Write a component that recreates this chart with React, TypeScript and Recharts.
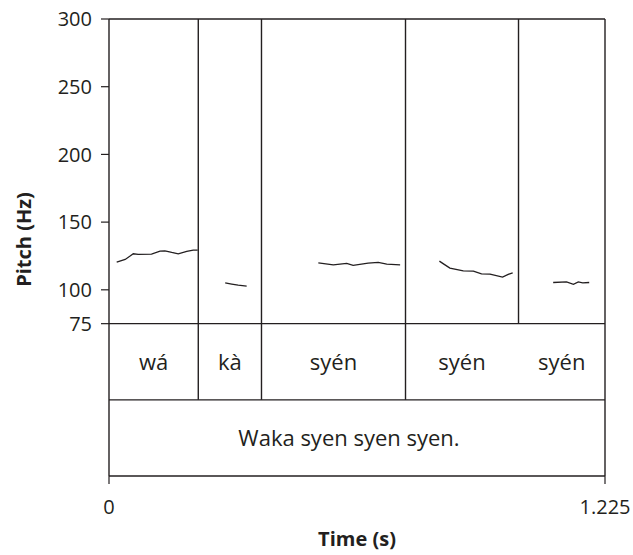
import { ComposedChart, Line, XAxis, YAxis, ReferenceLine, ReferenceArea } from 'recharts';

const FONT = '"Open Sans", "Noto Sans", sans-serif';
const INK = '#231f20';

const timeTicks = [0, 1.225];
const pitchTicks = [75, 100, 150, 200, 250, 300];

// annotation tiers live below the 75 Hz floor, each one 56.25 "Hz" tall
const PITCH_FLOOR = 75;
const TIER_H = 56.25;

const syllables = ['wá', 'kà', 'syén', 'syén', 'syén'];
const syllableEdges = [0, 0.2205, 0.3766, 0.7323, 1.0114, 1.225];
const tierEdges = [0.2205, 0.3766, 0.7323];
const sentence = 'Waka syen syen syen.';

// pitch track, one pair of arrays per voiced stretch
const waTime = [0.019, 0.04, 0.06, 0.072, 0.105, 0.126, 0.138, 0.155, 0.171, 0.192, 0.208, 0.219];
const waHz = [120.4, 122.4, 126.6, 126.1, 126.4, 128.6, 128.8, 127.6, 126.6, 128.4, 129.3, 129.3];
const kaTime = [0.287, 0.303, 0.319, 0.34];
const kaHz = [105.1, 104.2, 103.4, 102.7];
const syen1Time = [0.517, 0.554, 0.587, 0.603, 0.64, 0.665, 0.686, 0.719];
const syen1Hz = [119.9, 118.4, 119.5, 118.0, 119.7, 120.2, 119.0, 118.4];
const syen2Time = [0.816, 0.827, 0.842, 0.875, 0.9, 0.92, 0.941, 0.972, 0.986, 0.997];
const syen2Hz = [121.2, 119.0, 116.0, 114.0, 113.8, 111.8, 111.6, 109.4, 111.4, 112.5];
const syen3Time = [1.097, 1.13, 1.147, 1.159, 1.17, 1.186];
const syen3Hz = [105.4, 105.9, 104.0, 105.9, 105.1, 105.4];

const zip = (ts: number[], hs: number[]) => ts.map((t, i) => ({ t, hz: hs[i] }));

const tracks = [
  zip(waTime, waHz),
  zip(kaTime, kaHz),
  zip(syen1Time, syen1Hz),
  zip(syen2Time, syen2Hz),
  zip(syen3Time, syen3Hz),
];

export default function App() {
  const tier1Top = PITCH_FLOOR;
  const tier1Bottom = PITCH_FLOOR - TIER_H;
  const tier2Bottom = PITCH_FLOOR - 2 * TIER_H;
  const tMax = timeTicks[timeTicks.length - 1];
  const textStyle = { fill: INK, fontSize: 20, fontFamily: FONT };
  const tierText = { fill: INK, fontSize: 22, fontFamily: FONT };

  return (
    <div style={{ position: 'absolute', left: 0, top: 0, background: '#fff' }}>
      <ComposedChart width={633} height={555} margin={{ top: 19, right: 28, bottom: 0, left: 0 }}>
        <XAxis
          type="number"
          dataKey="t"
          domain={[0, tMax]}
          ticks={timeTicks}
          interval={0}
          tickSize={8}
          tickMargin={16}
          height={79}
          axisLine={{ stroke: INK, strokeWidth: 1.4 }}
          tickLine={{ stroke: INK, strokeWidth: 1.2 }}
          tick={textStyle}
          label={{ value: 'Time (s)', position: 'insideBottom', offset: 9, fill: INK, fontSize: 20, fontWeight: 'bold', fontFamily: FONT }}
        />
        <YAxis
          type="number"
          domain={[tier2Bottom, 300]}
          ticks={pitchTicks}
          interval={0}
          width={109}
          tickSize={8}
          tickMargin={9}
          axisLine={{ stroke: INK, strokeWidth: 1.4 }}
          tickLine={{ stroke: INK, strokeWidth: 1.2 }}
          tick={textStyle}
          label={{ value: 'Pitch (Hz)', angle: -90, position: 'insideLeft', offset: 24, dx: 0, dy: -8, style: { textAnchor: 'middle' }, fill: INK, fontSize: 20, fontWeight: 'bold', fontFamily: FONT }}
        />

        {/* frame and tier rules */}
        <ReferenceLine y={300} stroke={INK} strokeWidth={1.4} />
        <ReferenceLine y={tier1Top} stroke={INK} strokeWidth={1.4} />
        <ReferenceLine y={tier1Bottom} stroke={INK} strokeWidth={1.4} />
        <ReferenceLine x={tMax} stroke={INK} strokeWidth={1.4} />
        {syllableEdges.slice(1, -1).map((e) => (
          <ReferenceLine key={`p-${e}`} segment={[{ x: e, y: tier1Top }, { x: e, y: 300 }]} stroke={INK} strokeWidth={1.4} />
        ))}
        {tierEdges.map((e) => (
          <ReferenceLine key={`t-${e}`} segment={[{ x: e, y: tier1Bottom }, { x: e, y: tier1Top }]} stroke={INK} strokeWidth={1.4} />
        ))}

        {/* tier text */}
        {syllables.map((s, i) => (
          <ReferenceArea
            key={`s-${i}`}
            x1={syllableEdges[i]}
            x2={syllableEdges[i + 1]}
            y1={tier1Bottom}
            y2={tier1Top}
            fill="none"
            stroke="none"
            label={{ value: s, position: 'center', ...tierText }}
          />
        ))}
        <ReferenceArea
          x1={0}
          x2={tMax}
          y1={tier2Bottom}
          y2={tier1Bottom}
          fill="none"
          stroke="none"
          label={{ value: sentence, position: 'center', dx: -8, ...tierText }}
        />

        {tracks.map((d, i) => (
          <Line
            key={`f0-${i}`}
            data={d}
            dataKey="hz"
            type="linear"
            dot={false}
            stroke={INK}
            strokeWidth={1.3}
            isAnimationActive={false}
          />
        ))}
      </ComposedChart>
    </div>
  );
}
